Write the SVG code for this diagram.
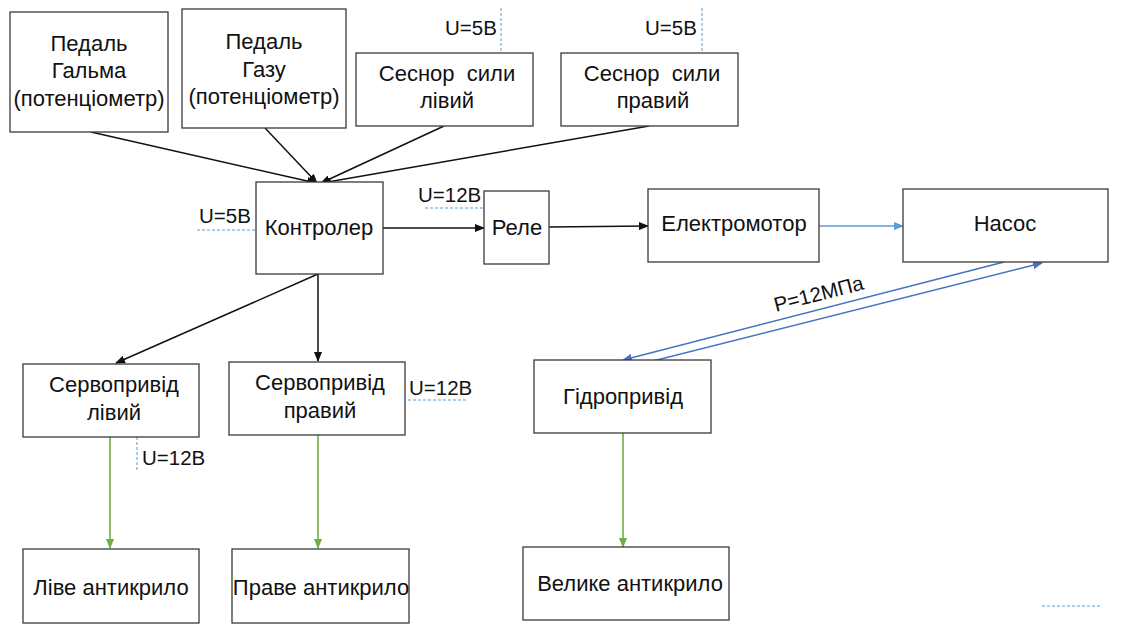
<svg xmlns="http://www.w3.org/2000/svg" width="1139" height="634" viewBox="0 0 1139 634">
<style>
.box{fill:#fff;stroke:#3a3a3a;stroke-width:1.3}
.t{font-family:"Liberation Sans",Arial,sans-serif;font-size:22px;fill:#111;text-anchor:middle}
.lbl{font-family:"Liberation Sans",Arial,sans-serif;font-size:20.5px;fill:#111}
.sp{stroke:#e06060;stroke-width:1.2;stroke-dasharray:1.2 1;fill:none;opacity:0.85}
.blk{stroke:#111;stroke-width:1.5;fill:none}
.blu{stroke:#4472c4;stroke-width:1.6;fill:none}
.lblu{stroke:#5b9bd5;stroke-width:1.5;fill:none}
.grn{stroke:#70ad47;stroke-width:1.6;fill:none}
.dash{stroke:#5b9bd5;stroke-width:1;stroke-dasharray:3 2;fill:none}
</style>
<defs>
<marker id="ab" markerWidth="10" markerHeight="8" refX="9" refY="4" orient="auto" markerUnits="userSpaceOnUse"><path d="M0,0 L10,4 L0,8 Z" fill="#111"/></marker>
<marker id="abl" markerWidth="10" markerHeight="8" refX="9" refY="4" orient="auto" markerUnits="userSpaceOnUse"><path d="M0,0 L10,4 L0,8 Z" fill="#4472c4"/></marker>
<marker id="albl" markerWidth="10" markerHeight="8" refX="9" refY="4" orient="auto" markerUnits="userSpaceOnUse"><path d="M0,0 L10,4 L0,8 Z" fill="#5b9bd5"/></marker>
<marker id="ag" markerWidth="10" markerHeight="8" refX="9" refY="4" orient="auto" markerUnits="userSpaceOnUse"><path d="M0,0 L10,4 L0,8 Z" fill="#70ad47"/></marker>
</defs>
<rect width="1139" height="634" fill="#fff"/>

<g id="connectors">
<line class="blk" x1="91" y1="132" x2="316" y2="183" marker-end="url(#ab)"/>
<line class="blk" x1="265" y1="128" x2="317" y2="183" marker-end="url(#ab)"/>
<line class="blk" x1="444" y1="126" x2="321" y2="183" marker-end="url(#ab)"/>
<line class="blk" x1="649" y1="126" x2="322" y2="183" marker-end="url(#ab)"/>
<line class="blk" x1="383" y1="228" x2="484" y2="228" marker-end="url(#ab)"/>
<line class="blk" x1="549" y1="227" x2="648" y2="226" marker-end="url(#ab)"/>
<line class="lblu" x1="819" y1="226" x2="903" y2="226" marker-end="url(#albl)"/>
<line class="blu" x1="1004" y1="262" x2="623" y2="360" marker-end="url(#abl)"/>
<line class="blu" x1="645" y1="363" x2="1042" y2="263" marker-end="url(#abl)"/>
<line class="blk" x1="318" y1="274" x2="116" y2="363" marker-end="url(#ab)"/>
<line class="blk" x1="318" y1="274" x2="318" y2="361" marker-end="url(#ab)"/>
<line class="grn" x1="110" y1="437" x2="110" y2="548" marker-end="url(#ag)"/>
<line class="grn" x1="318" y1="435" x2="318" y2="548" marker-end="url(#ag)"/>
<line class="grn" x1="623" y1="433" x2="623" y2="547" marker-end="url(#ag)"/>
<text class="lbl" transform="translate(776,312) rotate(-14.4)">P=12МПа</text>
</g>

<g id="annotations">
<text class="lbl" x="445" y="35">U=5B</text>
<line class="dash" x1="501" y1="8" x2="501" y2="53"/>
<text class="lbl" x="645" y="35">U=5B</text>
<line class="dash" x1="702" y1="8" x2="702" y2="53"/>
<text class="lbl" x="199" y="223">U=5B</text>
<line class="dash" x1="197" y1="230" x2="256" y2="230"/>
<text class="lbl" x="418" y="202">U=12B</text>
<line class="dash" x1="425" y1="208" x2="484" y2="208"/>
<text class="lbl" x="409" y="395">U=12B</text>
<line class="dash" x1="408" y1="400" x2="466" y2="400"/>
<text class="lbl" x="142" y="465">U=12B</text>
<line class="dash" x1="137" y1="437" x2="137" y2="470"/>
<line class="dash" x1="1042" y1="606" x2="1100" y2="606"/>
</g>

<g id="spellcheck">
<line class="sp" x1="53" y1="82" x2="126" y2="82"/>
<line class="sp" x1="20" y1="111" x2="159" y2="111"/>
<line class="sp" x1="193" y1="109" x2="333" y2="109"/>
<line class="sp" x1="382" y1="84" x2="425" y2="84"/>
<line class="sp" x1="465" y1="84" x2="513" y2="84"/>
<line class="sp" x1="419" y1="111" x2="476" y2="111"/>
<line class="sp" x1="587" y1="84" x2="630" y2="84"/>
<line class="sp" x1="670" y1="84" x2="719" y2="84"/>
<line class="sp" x1="616" y1="111" x2="692" y2="111"/>
<line class="sp" x1="663" y1="234" x2="805" y2="234"/>
<line class="sp" x1="49" y1="395" x2="180" y2="395"/>
<line class="sp" x1="87" y1="422" x2="141" y2="422"/>
<line class="sp" x1="256" y1="393" x2="387" y2="393"/>
<line class="sp" x1="284" y1="420" x2="359" y2="420"/>
<line class="sp" x1="562" y1="407" x2="687" y2="407"/>
<line class="sp" x1="32" y1="598" x2="77" y2="598"/>
<line class="sp" x1="82" y1="598" x2="190" y2="598"/>
<line class="sp" x1="300" y1="598" x2="409" y2="598"/>
<line class="sp" x1="537" y1="594" x2="609" y2="594"/>
<line class="sp" x1="615" y1="594" x2="723" y2="594"/>
</g>

<g id="n-brake">
<rect class="box" x="10" y="12" width="158" height="120"/>
<text class="t" x="89" y="51">Педаль</text>
<text class="t" x="89" y="78">Гальма</text>
<text class="t" x="89" y="106">(потенціометр)</text>
</g>
<g id="n-gas">
<rect class="box" x="182" y="9" width="164" height="119"/>
<text class="t" x="264" y="49">Педаль</text>
<text class="t" x="264" y="77">Газу</text>
<text class="t" x="264" y="104">(потенціометр)</text>
</g>
<g id="n-sensor-l">
<rect class="box" x="356" y="53" width="177" height="73"/>
<text class="t" x="447" y="81">Сеснор&#160; сили</text>
<text class="t" x="447" y="108">лівий</text>
</g>
<g id="n-sensor-r">
<rect class="box" x="561" y="53" width="177" height="73"/>
<text class="t" x="652" y="81">Сеснор&#160; сили</text>
<text class="t" x="653" y="108">правий</text>
</g>
<g id="n-controller">
<rect class="box" x="256" y="182" width="127" height="92"/>
<text class="t" x="319" y="235">Контролер</text>
</g>
<g id="n-relay">
<rect class="box" x="484" y="191" width="65" height="73"/>
<text class="t" x="517" y="235">Реле</text>
</g>
<g id="n-motor">
<rect class="box" x="648" y="189" width="171" height="73"/>
<text class="t" x="734" y="231">Електромотор</text>
</g>
<g id="n-pump">
<rect class="box" x="903" y="189" width="205" height="73"/>
<text class="t" x="1005" y="231">Насос</text>
</g>
<g id="n-servo-l">
<rect class="box" x="23" y="364" width="176" height="73"/>
<text class="t" x="114" y="392">Сервопривід</text>
<text class="t" x="114" y="420">лівий</text>
</g>
<g id="n-servo-r">
<rect class="box" x="229" y="362" width="176" height="73"/>
<text class="t" x="320" y="390">Сервопривід</text>
<text class="t" x="320" y="418">правий</text>
</g>
<g id="n-hydro">
<rect class="box" x="534" y="360" width="177" height="73"/>
<text class="t" x="623" y="404">Гідропривід</text>
</g>
<g id="n-wing-l">
<rect class="box" x="23" y="549" width="176" height="74"/>
<text class="t" x="111" y="595">Ліве антикрило</text>
</g>
<g id="n-wing-r">
<rect class="box" x="232" y="549" width="177" height="74"/>
<text class="t" x="321" y="595">Праве антикрило</text>
</g>
<g id="n-wing-big">
<rect class="box" x="523" y="547" width="206" height="73"/>
<text class="t" x="630" y="591">Велике антикрило</text>
</g>
</svg>
